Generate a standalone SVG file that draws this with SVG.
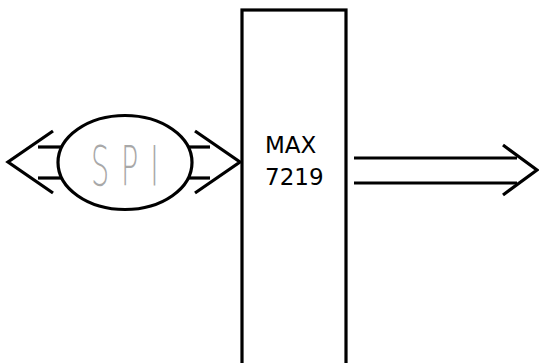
<svg xmlns="http://www.w3.org/2000/svg" width="539" height="363" viewBox="0 0 539 363">
<style>
.s{fill:none;stroke:#000;stroke-width:3.2;stroke-linecap:butt}
</style>
<rect width="539" height="363" fill="#fff"/>
<g id="connectors">
<polyline class="s" points="53,131 8,162 53,193"/>
<line class="s" x1="38" y1="147" x2="62" y2="147"/>
<line class="s" x1="38" y1="178" x2="62" y2="178"/>
<polyline class="s" points="195,131 240,162 195,193"/>
<line class="s" x1="188" y1="147" x2="210" y2="147"/>
<line class="s" x1="188" y1="178" x2="210" y2="178"/>
<line class="s" x1="354" y1="158" x2="517" y2="158"/>
<line class="s" x1="354" y1="183" x2="517" y2="183"/>
<polyline class="s" points="503,145 537,170 503,195"/>
</g>
<g id="spi">
<ellipse class="s" cx="125" cy="162.5" rx="67" ry="47" fill="#fff"/>
<text transform="translate(91,185) scale(0.52,1)" font-family="DejaVu Sans" font-weight="200" font-size="55" fill="#a8a8a8" letter-spacing="23">SPI</text>
</g>
<g id="max">
<rect class="s" x="242" y="10" width="104" height="360" fill="#fff"/>
<text font-family="DejaVu Sans" font-size="23" fill="#000"><tspan x="265" y="153">MAX</tspan><tspan x="265" y="185">7219</tspan></text>
</g>
</svg>
